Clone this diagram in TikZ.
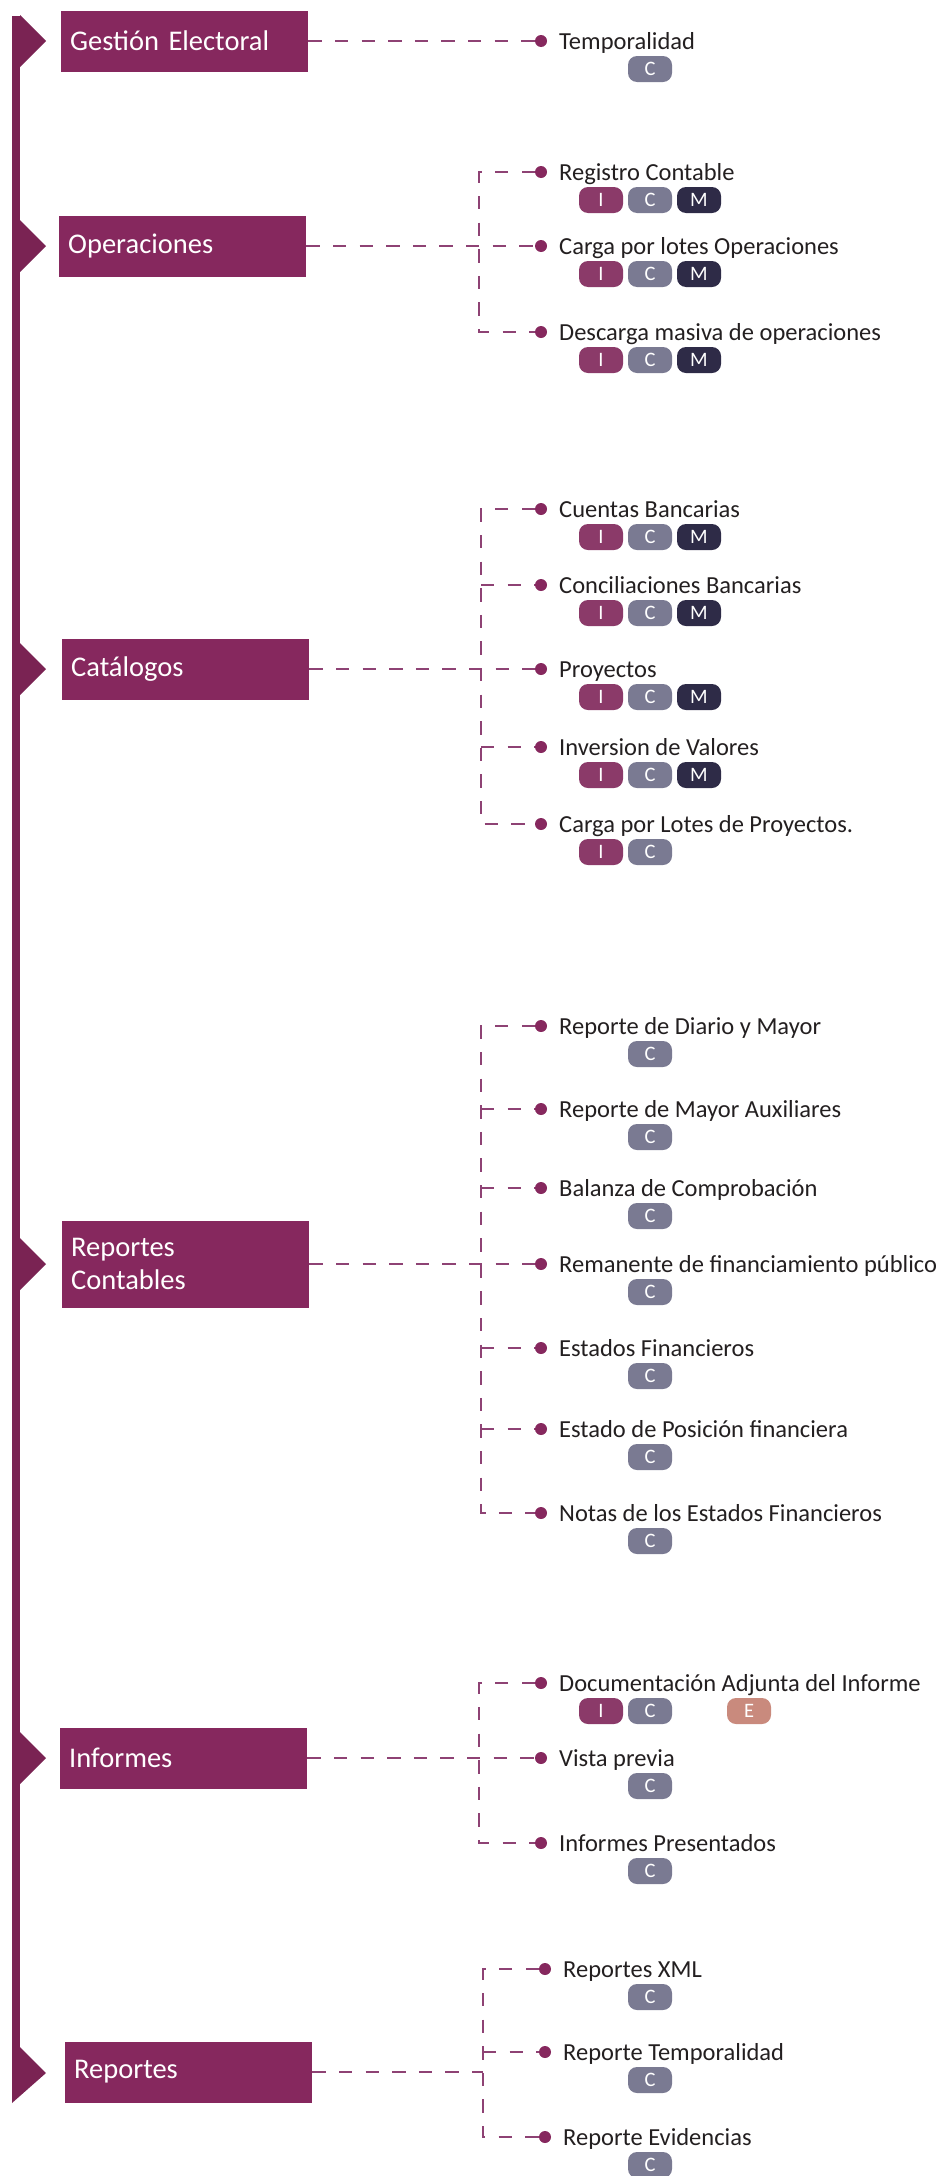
\documentclass[tikz,border=0pt]{standalone}
\usepackage{fontspec}
\setmainfont{Carlito}
\usepackage{xcolor}

\definecolor{vino}{HTML}{86285E}
\definecolor{lomo}{HTML}{7A2353}
\definecolor{guion}{HTML}{8E4274}
\definecolor{tinta}{HTML}{231F20}
\definecolor{colI}{HTML}{8B3A69}
\definecolor{colC}{HTML}{7A7A92}
\definecolor{colM}{HTML}{2E2B47}
\definecolor{colE}{HTML}{C98A7D}

% punto + texto + insignias
\def\xdot{541}
\newcommand{\rama}[4]{%
  \node[punto] (#1) at (\xdot,#2) {};
  \node[texto] (#1t) at ([xshift=18pt,yshift=-8.5pt]#1.center) {#3};
  \foreach \l/\c/\xb in {#4} \node[insignia, fill=\c] (#1\l) at (\xb,#2+28) {\l};
}

\begin{document}
\begin{tikzpicture}[x=1pt, y=-1pt,
    caja/.style={fill=vino, text=white, anchor=west, minimum height=61pt,
      text width=229pt, inner xsep=9pt, align=left,
      font=\fontsize{28.5}{33}\selectfont},
    punto/.style={circle, fill=vino, inner sep=0pt, minimum size=12pt},
    texto/.style={anchor=base west, inner sep=0pt, text=tinta,
      font=\fontsize{24.5}{28}\selectfont},
    insignia/.style={rounded corners=9pt, minimum width=44pt, minimum height=26pt,
      inner sep=0pt, text=white, font=\fontsize{20.5}{20.5}\selectfont},
    enlace/.style={guion, line width=2pt, dash pattern=on 13.3pt off 13.3pt}]
    \useasboundingbox (0,0) rectangle (952,2176);

    % lomo
    \fill[lomo] (12,16) rectangle (20,2047);
    \foreach \y in {41,246,669,1264,1758}
      \fill[lomo] (20,\y-26) -- (46,\y) -- (20,\y+26) -- cycle;
    \fill[lomo] (12,2047) -- (20,2047) -- (46,2073) -- (12,2103) -- cycle;

    % Gestion Electoral
    \node[caja] (gestion) at (61,41) {Gestión Electoral};
    \rama{g1}{41}{Temporalidad}{C/colC/650}
    \draw[enlace] (gestion) -- (g1);

    % Operaciones
    \node[caja] (operaciones) at (59,246) {Operaciones};
    \rama{g2a}{172}{Registro Contable}{I/colI/601,C/colC/650,M/colM/699}
    \rama{g2b}{246}{Carga por lotes Operaciones}{I/colI/601,C/colC/650,M/colM/699}
    \rama{g2c}{332}{Descarga masiva de operaciones}{I/colI/601,C/colC/650,M/colM/699}
    \coordinate (b2) at (479,246);
    \draw[enlace] (operaciones) -- (g2b);
    \draw[enlace] (g2a) -| (b2) |- (g2c);

    % Catalogos
    \node[caja] (catalogos) at (62,669) {Catálogos};
    \rama{g3a}{509}{Cuentas Bancarias}{I/colI/601,C/colC/650,M/colM/699}
    \rama{g3b}{585}{Conciliaciones Bancarias}{I/colI/601,C/colC/650,M/colM/699}
    \rama{g3c}{669}{Proyectos}{I/colI/601,C/colC/650,M/colM/699}
    \rama{g3d}{747}{Inversion de Valores}{I/colI/601,C/colC/650,M/colM/699}
    \rama{g3e}{824}{Carga por Lotes de Proyectos.}{I/colI/601,C/colC/650}
    \coordinate (b3) at (481,669);
    \draw[enlace] (catalogos) -- (g3c);
    \draw[enlace] (g3a) -| (b3) |- (g3e);
    \draw[enlace] (b3 |- g3b) -- (g3b);
    \draw[enlace] (b3 |- g3d) -- (g3d);

    % Reportes Contables
    \node[caja, minimum height=87pt] (contables) at (62,1264) {Reportes\\Contables};
    \rama{g4a}{1026}{Reporte de Diario y Mayor}{C/colC/650}
    \rama{g4b}{1109}{Reporte de Mayor Auxiliares}{C/colC/650}
    \rama{g4c}{1188}{Balanza de Comprobación}{C/colC/650}
    \rama{g4d}{1264}{Remanente de financiamiento público}{C/colC/650}
    \rama{g4e}{1348}{Estados Financieros}{C/colC/650}
    \rama{g4f}{1429}{Estado de Posición financiera}{C/colC/650}
    \rama{g4g}{1513}{Notas de los Estados Financieros}{C/colC/650}
    \coordinate (b4) at (481,1264);
    \draw[enlace] (contables) -- (g4d);
    \draw[enlace] (g4a) -| (b4) |- (g4g);
    \foreach \n in {g4b,g4c,g4e,g4f}
      \draw[enlace] (b4 |- \n) -- (\n);

    % Informes
    \node[caja] (informes) at (60,1758) {Informes};
    \rama{g5a}{1683}{Documentación Adjunta del Informe}{I/colI/601,C/colC/650,E/colE/749}
    \rama{g5b}{1758}{Vista previa}{C/colC/650}
    \rama{g5c}{1843}{Informes Presentados}{C/colC/650}
    \coordinate (b5) at (479,1758);
    \draw[enlace] (informes) -- (g5b);
    \draw[enlace] (g5a) -| (b5) |- (g5c);

    % Reportes
    \def\xdot{545}
    \node[caja] (reportes) at (65,2072) {Reportes};
    \rama{g6a}{1969}{Reportes XML}{C/colC/650}
    \rama{g6b}{2052}{Reporte Temporalidad}{C/colC/650}
    \rama{g6c}{2137}{Reporte Evidencias}{C/colC/650}
    \coordinate (b6) at (483,2072);
    \draw[enlace] (reportes) -- (b6);
    \draw[enlace] (g6a) -| (b6) |- (g6c);
    \draw[enlace] (b6 |- g6b) -- (g6b);
\end{tikzpicture}
\end{document}
